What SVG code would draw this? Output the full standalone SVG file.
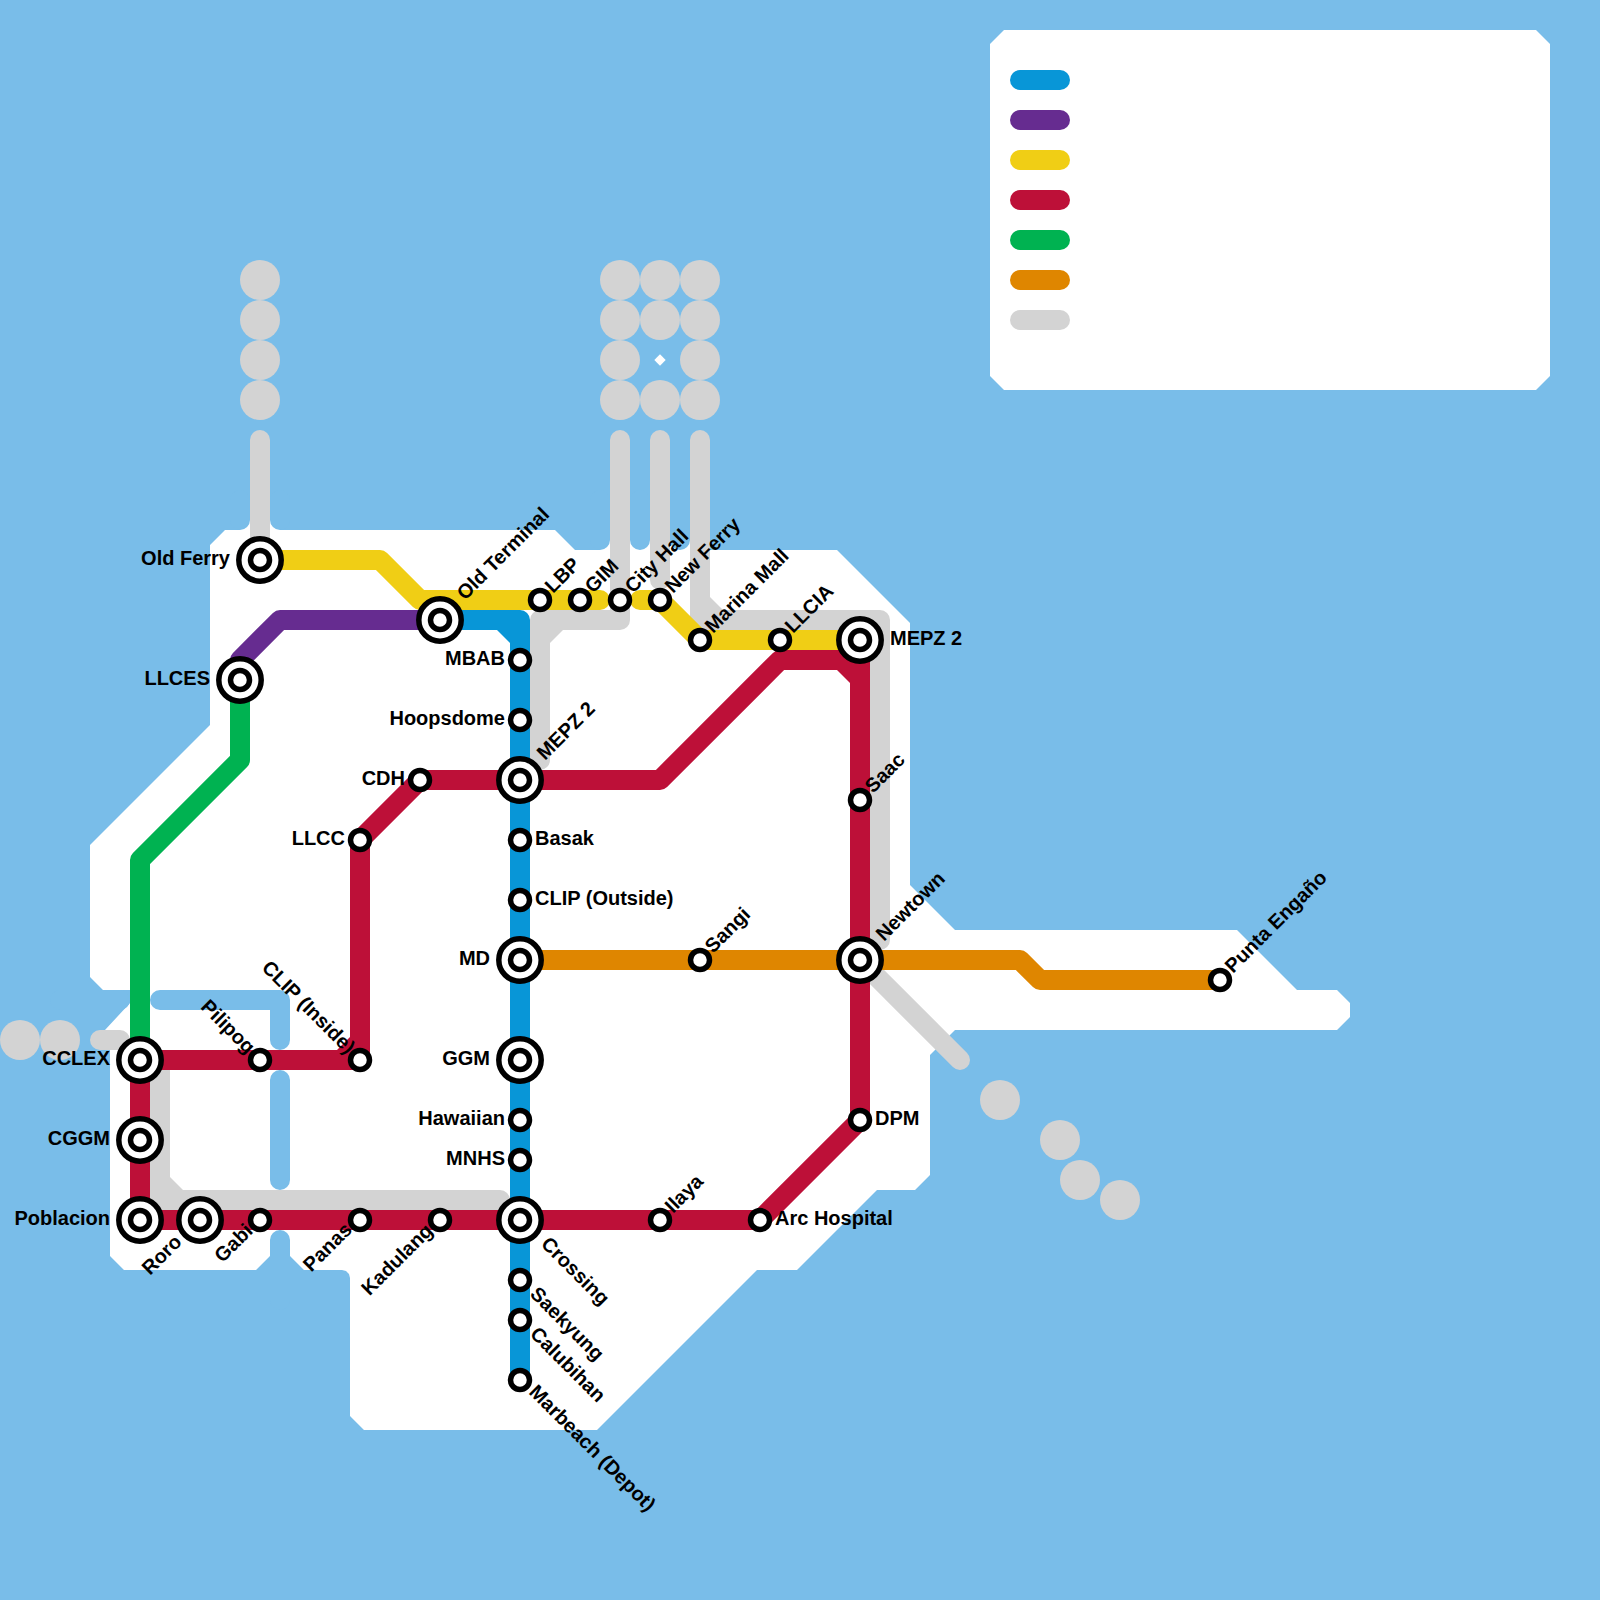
<svg xmlns="http://www.w3.org/2000/svg" width="1600" height="1600" viewBox="0 0 1600 1600">
<style>
.l{fill:none;stroke-width:20;stroke-linecap:round;stroke-linejoin:round}
.w{stroke:#79bde9}.b{stroke:#0896d7}.p{stroke:#662c90}.y{stroke:#f0ce15}.r{stroke:#bd1038}.g{stroke:#00b251}.o{stroke:#df8600}.a{stroke:#d3d3d3}
.land{fill:#fff}
.dot{fill:#d3d3d3}
.s{fill:#fff;stroke:#000;stroke-width:5.5}
text{font-family:"Liberation Sans",Arial,sans-serif;font-weight:700;font-size:20px;fill:#000}
.e{text-anchor:end}
</style>
<rect id="water" width="1600" height="1600" fill="#79bde9"/>
<g id="land">
<polygon class="land" points="225,530 240,530 240,520 280,520 280,530 555,530 575,550 600,550 600,540 700,540 700,550 837,550 910,623 910,885 955,930 1237,930 1297,990 1337,990 1350,1003 1350,1017 1337,1030 955,1030 930,1055 930,1175 915,1190 877,1190 797,1270 757,1270 597,1430 364,1430 350,1416 350,1278 349,1274 346,1271 342,1270 304,1270 290,1256 270,1256 256,1270 124,1270 110,1256 110,1040 105,1030 130,1003 130,990 103,990 90,977 90,845 210,725 210,545"/>
<polygon class="land" points="990,44 1004,30 1536,30 1550,44 1550,376 1536,390 1004,390 990,376"/>
<path class="l w" d="M240 500V520M280 500V520M600 500V540M640 500V540M680 500V540M160 1000H280V1040M280 1080V1180M280 1240V1300M60 1000H120"/>
<polygon class="land" points="270,1010 257,1010 270,1023"/>
<polygon class="land" points="660,354.3 665.7,360 660,365.7 654.3,360"/>
</g>
<g id="connectors">
<path class="l a" d="M260 440V560M620 440V620H540V760M660 440V580M700 440V620H880V940M860 960L960 1060M160 1060V1200H500M100 1040H120"/>
<polygon fill="#d3d3d3" points="550,630 563,630 550,643"/>
<polygon fill="#d3d3d3" points="710,597 710,610 723,610"/>
<polygon fill="#d3d3d3" points="170,1177 170,1190 183,1190"/>
<path class="l b" d="M440 620H520V1380"/>
<polygon fill="#0896d7" points="510,630 497,630 510,643"/>
<path class="l p" d="M240 660L280 620H440"/>
<path class="l y" d="M260 560H380L420 600H600M640 600H660L700 640H860"/>
<path class="l r" d="M140 1060V1220H760L860 1120V660H780L660 780H420L360 840V1060H140"/>
<polygon fill="#bd1038" points="850,670 837,670 850,683"/>
<polygon fill="#bd1038" points="350,1050 337,1050 350,1037"/>
<path class="l g" d="M240 680V760L140 860V1060"/>
<path class="l o" d="M520 960H1020L1040 980H1220"/>
</g>
<g id="scenery">
<circle class="dot" cx="20" cy="1040" r="20"/><circle class="dot" cx="60" cy="1040" r="20"/>
<circle class="dot" cx="260" cy="280" r="20"/><circle class="dot" cx="260" cy="320" r="20"/><circle class="dot" cx="260" cy="360" r="20"/><circle class="dot" cx="260" cy="400" r="20"/>
<circle class="dot" cx="620" cy="280" r="20"/><circle class="dot" cx="620" cy="320" r="20"/><circle class="dot" cx="620" cy="360" r="20"/><circle class="dot" cx="620" cy="400" r="20"/>
<circle class="dot" cx="660" cy="280" r="20"/><circle class="dot" cx="660" cy="320" r="20"/><circle class="dot" cx="660" cy="400" r="20"/>
<circle class="dot" cx="700" cy="280" r="20"/><circle class="dot" cx="700" cy="320" r="20"/><circle class="dot" cx="700" cy="360" r="20"/><circle class="dot" cx="700" cy="400" r="20"/>
<circle class="dot" cx="1000" cy="1100" r="20"/><circle class="dot" cx="1060" cy="1140" r="20"/><circle class="dot" cx="1080" cy="1180" r="20"/><circle class="dot" cx="1120" cy="1200" r="20"/>
</g>
<g id="legend">
<path class="l b" d="M1020 80H1060"/><path class="l p" d="M1020 120H1060"/><path class="l y" d="M1020 160H1060"/><path class="l r" d="M1020 200H1060"/><path class="l g" d="M1020 240H1060"/><path class="l o" d="M1020 280H1060"/><path class="l a" d="M1020 320H1060"/>
</g>
<defs>
<g id="big"><circle class="s" r="21.2"/><circle class="s" r="9.5"/></g>
<circle id="small" class="s" r="9.5"/>
</defs>
<g id="old-ferry"><use href="#big" x="260" y="560"/><text class="e" x="230" y="565">Old Ferry</text></g>
<g id="old-terminal"><use href="#big" x="440" y="620"/><text transform="translate(465 601) rotate(-45)">Old Terminal</text></g>
<g id="llces"><use href="#big" x="240" y="680"/><text class="e" x="210" y="685">LLCES</text></g>
<g id="lbp"><use href="#small" x="540" y="600"/><text transform="translate(553 594) rotate(-45)">LBP</text></g>
<g id="gim"><use href="#small" x="580" y="600"/><text transform="translate(593 594) rotate(-45)">GIM</text></g>
<g id="city-hall"><use href="#small" x="620" y="600"/><text transform="translate(633 594) rotate(-45)">City Hall</text></g>
<g id="new-ferry"><use href="#small" x="660" y="600"/><text transform="translate(673 594) rotate(-45)">New Ferry</text></g>
<g id="marina-mall"><use href="#small" x="700" y="640"/><text transform="translate(713 634) rotate(-45)">Marina Mall</text></g>
<g id="llcia"><use href="#small" x="780" y="640"/><text transform="translate(793 634) rotate(-45)">LLCIA</text></g>
<g id="mepz-2-east"><use href="#big" x="860" y="640"/><text x="890" y="645">MEPZ 2</text></g>
<g id="mbab"><use href="#small" x="520" y="660"/><text class="e" x="505" y="665">MBAB</text></g>
<g id="hoopsdome"><use href="#small" x="520" y="720"/><text class="e" x="505" y="725">Hoopsdome</text></g>
<g id="mepz-2"><use href="#big" x="520" y="780"/><text transform="translate(545 761) rotate(-45)">MEPZ 2</text></g>
<g id="cdh"><use href="#small" x="420" y="780"/><text class="e" x="405" y="785">CDH</text></g>
<g id="llcc"><use href="#small" x="360" y="840"/><text class="e" x="345" y="845">LLCC</text></g>
<g id="basak"><use href="#small" x="520" y="840"/><text x="535" y="845">Basak</text></g>
<g id="clip-outside"><use href="#small" x="520" y="900"/><text x="535" y="905">CLIP (Outside)</text></g>
<g id="md"><use href="#big" x="520" y="960"/><text class="e" x="490" y="965">MD</text></g>
<g id="ggm"><use href="#big" x="520" y="1060"/><text class="e" x="490" y="1065">GGM</text></g>
<g id="hawaiian"><use href="#small" x="520" y="1120"/><text class="e" x="505" y="1125">Hawaiian</text></g>
<g id="mnhs"><use href="#small" x="520" y="1160"/><text class="e" x="505" y="1165">MNHS</text></g>
<g id="crossing"><use href="#big" x="520" y="1220"/><text transform="translate(540 1245) rotate(45)">Crossing</text></g>
<g id="saekyung"><use href="#small" x="520" y="1280"/><text transform="translate(529 1295) rotate(45)">Saekyung</text></g>
<g id="calubihan"><use href="#small" x="520" y="1320"/><text transform="translate(529 1335) rotate(45)">Calubihan</text></g>
<g id="marbeach"><use href="#small" x="520" y="1380"/><text transform="translate(528 1393) rotate(45)">Marbeach (Depot)</text></g>
<g id="sangi"><use href="#small" x="700" y="960"/><text transform="translate(713 954) rotate(-45)">Sangi</text></g>
<g id="newtown"><use href="#big" x="860" y="960"/><text transform="translate(884 942) rotate(-45)">Newtown</text></g>
<g id="punta-engano"><use href="#small" x="1220" y="980"/><text transform="translate(1233 974) rotate(-45)">Punta Engaño</text></g>
<g id="saac"><use href="#small" x="860" y="800"/><text transform="translate(873 794) rotate(-45)">Saac</text></g>
<g id="dpm"><use href="#small" x="860" y="1120"/><text x="875" y="1125">DPM</text></g>
<g id="arc-hospital"><use href="#small" x="760" y="1220"/><text x="775" y="1225">Arc Hospital</text></g>
<g id="ilaya"><use href="#small" x="660" y="1220"/><text transform="translate(673 1214) rotate(-45)">Ilaya</text></g>
<g id="kadulang"><use href="#small" x="440" y="1220"/><text class="e" transform="translate(434 1232) rotate(-45)">Kadulang</text></g>
<g id="panas"><use href="#small" x="360" y="1220"/><text class="e" transform="translate(353 1231) rotate(-45)">Panas</text></g>
<g id="gabi"><use href="#small" x="260" y="1220"/><text class="e" transform="translate(254 1232) rotate(-45)">Gabi</text></g>
<g id="roro"><use href="#big" x="200" y="1220"/><text class="e" transform="translate(183 1243) rotate(-45)">Roro</text></g>
<g id="poblacion"><use href="#big" x="140" y="1220"/><text class="e" x="110" y="1225">Poblacion</text></g>
<g id="cggm"><use href="#big" x="140" y="1140"/><text class="e" x="110" y="1145">CGGM</text></g>
<g id="cclex"><use href="#big" x="140" y="1060"/><text class="e" x="110" y="1065">CCLEX</text></g>
<g id="pilipog"><use href="#small" x="260" y="1060"/><text class="e" transform="translate(247 1055) rotate(45)">Pilipog</text></g>
<g id="clip-inside"><use href="#small" x="360" y="1060"/><text class="e" transform="translate(347 1055) rotate(45)">CLIP (Inside)</text></g>
</svg>
